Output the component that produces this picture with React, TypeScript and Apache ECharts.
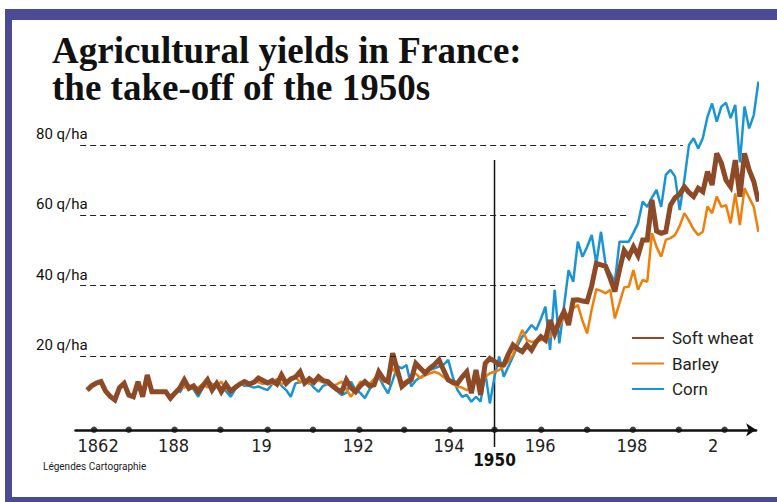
import React, { useEffect, useRef } from "react";
import * as echarts from "echarts";

const TITLE_LINES = ["Agricultural yields in France:", "the take-off of the 1950s"];
const SOURCE = "Légendes Cartographie";
const NAMES = ["Soft wheat", "Barley", "Corn"];

const WHEAT_START = 1862;
const WHEAT = [
  10.3, 11.5, 12.3, 12.7, 10.0, 8.5, 7.5, 11.0,
  12.2, 8.9, 8.4, 12.7, 8.4, 14.6, 9.8, 9.8, 9.8, 9.8,
  8.0, 9.5, 10.8, 13.2, 10.8, 11.5, 9.8, 11.5, 13.2, 10.3,
  12.2, 9.8, 12.0, 10.0, 11.0, 12.0, 12.7, 12.0, 12.5, 13.7,
  13.0, 12.3, 13.0, 12.0, 14.6, 12.2, 13.5, 14.0, 15.5, 12.3,
  13.5, 12.5, 14.1, 13.0, 12.7, 11.5, 10.5, 9.8, 13.2, 11.0,
  9.8, 11.5, 12.7, 11.5, 11.8, 15.5, 13.5, 12.7, 20.8, 16.0,
  11.3, 12.5, 13.2, 17.9, 16.5, 15.1, 16.5, 17.5, 18.9, 16.0,
  13.2, 12.5, 12.2, 14.0, 15.5, 9.4, 16.0, 8.9, 17.9, 19.3,
  18.5, 17.5, 17.5, 20.5, 23.1, 22.0, 21.2, 23.1, 21.7, 24.0,
  25.5, 24.5, 30.2, 26.4, 30.0, 32.6, 28.8, 35.9, 36.0, 35.6,
  35.4, 40.0, 46.3, 45.9, 45.5, 42.0, 38.3, 44.5, 50.0, 48.2,
  51.0, 48.5, 53.0, 53.0, 64.4, 55.5, 54.9, 55.3, 62.9, 65.0,
  66.0, 68.1, 66.5, 65.3, 67.7, 66.7, 72.4, 68.6, 77.6, 74.8,
  70.0, 68.1, 75.7, 65.3, 77.6, 72.9, 69.6, 63.9,
];

const BARLEY_START = 1882;
const BARLEY = [
  11.0, 11.0, 11.5, 10.5, 11.0, 12.0, 11.0, 12.0,
  11.5, 12.7, 10.5, 10.0, 11.5, 12.0, 12.0, 12.0, 12.5, 12.5,
  12.0, 12.5, 12.0, 13.5, 12.0, 12.5, 13.0, 14.0, 12.5, 13.0,
  12.0, 13.0, 13.0, 12.5, 12.0, 11.5, 12.0, 12.7, 10.5, 8.4,
  10.5, 12.7, 12.5, 12.0, 13.5, 14.5, 12.5, 13.5, 16.5, 14.5,
  12.0, 13.0, 14.0, 15.0, 13.7, 14.5, 15.0, 15.5, 15.0, 14.0,
  13.0, 12.0, 11.3, 11.0, 10.3, 11.0, 13.0, 11.0, 14.0, 15.1,
  15.5, 16.0, 17.0, 18.5, 20.3, 24.0, 27.4, 24.5, 24.0, 24.2,
  24.5, 25.0, 25.5, 27.0, 28.5, 31.0, 32.0, 33.5, 34.5, 30.0,
  26.4, 33.3, 39.0, 38.5, 37.8, 38.8, 30.7, 35.0, 39.5, 39.7,
  44.4, 38.8, 41.6, 41.1, 54.9, 51.0, 48.2, 53.0, 53.5, 54.4,
  57.0, 60.6, 58.5, 56.0, 54.4, 55.3, 62.5, 60.6, 65.3, 62.4,
  62.9, 57.7, 66.2, 57.2, 67.7, 65.0, 62.4, 55.3,
];

const CORN_START = 1882;
const CORN = [
  9.5, 12.0, 11.5, 10.5, 8.4, 11.0, 13.2, 12.0,
  11.5, 11.0, 10.0, 8.4, 10.5, 12.2, 11.5, 11.5, 11.0, 11.3,
  10.8, 10.3, 12.0, 13.2, 11.5, 10.3, 8.4, 12.2, 12.5, 13.2,
  12.5, 11.0, 9.8, 11.5, 12.0, 11.0, 10.0, 8.9, 9.5, 12.7,
  10.3, 9.5, 8.0, 10.5, 12.0, 14.1, 11.5, 9.4, 13.0, 17.0,
  16.5, 17.4, 11.3, 13.0, 14.0, 14.6, 16.0, 16.5, 17.0, 17.5,
  18.9, 14.0, 10.3, 8.4, 8.9, 7.0, 8.4, 7.0, 15.2, 6.5,
  14.1, 19.8, 14.1, 17.0, 19.8, 23.0, 25.5, 27.0, 28.8, 27.4,
  30.5, 34.0, 21.7, 38.8, 23.6, 34.0, 44.4, 41.1, 52.5, 48.2,
  51.0, 54.4, 46.3, 55.3, 45.9, 43.5, 41.1, 52.5, 52.5, 52.5,
  55.0, 57.7, 63.9, 62.4, 65.0, 67.2, 62.4, 71.5, 72.9, 71.0,
  61.5, 70.0, 80.0, 81.9, 79.0, 82.0, 88.0, 91.8, 86.6, 90.9,
  92.0, 87.6, 91.4, 75.0, 90.9, 84.7, 88.5, 98.0,
];

const Y_TICKS = [20, 40, 60, 80];
const GUIDE_START_YEAR = 1860.5;
const GUIDE_END_YEARS = [1948.6, 1963.1, 1979.3, 1990.7];
// axis dots as they sit on the reference axis (in axis units)
const X_DOT_POS = [1863.5, 1871, 1880.9, 1890.8, 1901, 1910.8, 1920.8, 1930.5, 1940.4, 1950, 1960.1, 1970, 1979.9, 1989.8, 1999.7];
const X_LABEL_POS = [1863.5, 1880.9, 1901, 1920.8, 1940.4, 1960.1, 1979.9, 1999.7];
const X_LABEL_TEXTS = ["1862", "188", "19", "192", "194", "196", "198", "2"];
const MARK_YEAR = 1950;
const MARK_TOP = 75.7;
const MARK_BOTTOM = -5.9;

const X_MIN = 1859.5;
const X_MAX = 2006.5;
const Y_MIN = -1;
const Y_MAX = 100;

const COLORS = { wheat: "#8E4A27", barley: "#F07F0A", corn: "#1994D4", frame: "#4B4A95" };
const NARROW = "'Liberation Sans Narrow', 'DejaVu Sans Condensed', 'Roboto Condensed', Roboto, sans-serif";
const TITLE_STYLE = { fontFamily: "'Liberation Serif', 'Times New Roman', serif", fontWeight: "bold", fontSize: 37, lineHeight: 37, color: "#111" };

export default function App() {
  const ref = useRef<HTMLDivElement>(null);
  useEffect(() => {
    document.body.style.margin = "0";
    const chart = echarts.init(ref.current!, null, { renderer: "svg" });
    const pairs = (start: number, vals: number[]) => vals.map((v, i) => [start + i, v]);

    const guideLines: any[] = Y_TICKS.map((v, i) => [
      { coord: [GUIDE_START_YEAR, v] },
      { coord: [GUIDE_END_YEARS[i], v] },
    ]);

    const option: any = {
      animation: false,
      backgroundColor: "#fff",
      title: [
        { text: TITLE_LINES[0], left: 52, top: 32, padding: 0, textStyle: TITLE_STYLE },
        { text: TITLE_LINES[1], left: 52, top: 69, padding: 0, textStyle: TITLE_STYLE },
        {
          text: SOURCE,
          left: 43,
          top: 460,
          padding: 0,
          textStyle: { fontFamily: "Roboto, sans-serif", fontWeight: "normal", fontSize: 10, lineHeight: 12, color: "#222" },
        },
      ],
      graphic: [
        { type: "rect", shape: { x: 5, y: 9, width: 772, height: 11 }, style: { fill: COLORS.frame }, silent: true },
        { type: "rect", shape: { x: 5, y: 9, width: 7, height: 493 }, style: { fill: COLORS.frame }, silent: true },
        { type: "rect", shape: { x: 5, y: 497, width: 772, height: 5 }, style: { fill: COLORS.frame }, silent: true },
      ],
      legend: {
        data: NAMES,
        orient: "vertical",
        left: 632,
        top: 328,
        padding: 0,
        itemWidth: 32,
        itemHeight: 2,
        itemGap: 5.5,
        icon: "rect",
        selectedMode: false,
        textStyle: { fontFamily: "Roboto, sans-serif", fontSize: 17, color: "#222", lineHeight: 20, padding: [0, 0, 0, 3] },
      },
      grid: { left: 75.5, right: 20.9, top: 74.6, bottom: 72.2, containLabel: false, outerBoundsMode: "none" },
      xAxis: {
        type: "value",
        min: X_MIN,
        max: X_MAX,
        splitLine: { show: false },
        axisTick: { show: false },
        axisLine: { show: true, onZero: false, symbol: ["none", "arrow"], symbolSize: [10, 10], lineStyle: { color: "#111", width: 2.5 } },
        axisLabel: {
          customValues: X_LABEL_POS,
          margin: 7,
          formatter: (val: number) => {
            const i = X_LABEL_POS.findIndex((p) => Math.abs(p - val) < 0.05);
            return i < 0 ? "" : `{t|${X_LABEL_TEXTS[i]}}`;
          },
          rich: { t: { width: 33, align: "left", fontFamily: NARROW, fontSize: 18, color: "#222" } },
        },
      },
      yAxis: {
        type: "value",
        min: Y_MIN,
        max: Y_MAX,
        splitLine: { show: false },
        axisLine: { show: false },
        axisTick: { show: false },
        axisLabel: {
          customValues: Y_TICKS,
          formatter: (v: number) => `${v} q/ha`,
          align: "left",
          verticalAlign: "bottom",
          margin: 39.5,
          padding: [0, 0, 3, 0],
          lineHeight: 16,
          fontFamily: "Roboto, sans-serif",
          fontSize: 15,
          color: "#111",
        },
      },
      series: [
        {
          name: "marker-1950",
          type: "line",
          data: [
            [MARK_YEAR, MARK_TOP],
            {
              value: [MARK_YEAR, MARK_BOTTOM],
              label: {
                show: true,
                position: "bottom",
                distance: 4,
                formatter: String(MARK_YEAR),
                fontFamily: NARROW,
                fontWeight: "bold",
                fontSize: 17,
                color: "#111",
              },
            },
          ],
          symbol: "circle",
          symbolSize: 1,
          showSymbol: true,
          itemStyle: { color: "rgba(0,0,0,0)" },
          lineStyle: { width: 1.5, color: "#111" },
          clip: false,
          silent: true,
          z: 1,
        },
        {
          name: NAMES[2],
          type: "line",
          data: pairs(CORN_START, CORN),
          symbol: "none",
          color: COLORS.corn,
          lineStyle: { width: 2.5, color: COLORS.corn },
          clip: false,
          silent: true,
          z: 2,
          markLine: {
            silent: true,
            symbol: ["none", "none"],
            label: { show: false },
            lineStyle: { type: [6, 4], width: 1, color: "#222" },
            data: guideLines,
            animation: false,
          },
        },
        {
          name: NAMES[1],
          type: "line",
          data: pairs(BARLEY_START, BARLEY),
          symbol: "none",
          color: COLORS.barley,
          lineStyle: { width: 2.5, color: COLORS.barley },
          clip: false,
          silent: true,
          z: 3,
        },
        {
          name: NAMES[0],
          type: "line",
          data: pairs(WHEAT_START, WHEAT),
          symbol: "none",
          color: COLORS.wheat,
          lineStyle: { width: 5, color: COLORS.wheat, join: "miter", miterLimit: 3 },
          clip: false,
          silent: true,
          z: 4,
        },
        {
          name: "axis-dots",
          type: "scatter",
          data: X_DOT_POS.map((y) => [y, Y_MIN]),
          symbol: "circle",
          symbolSize: 6.5,
          itemStyle: { color: "#111" },
          clip: false,
          silent: true,
          z: 5,
        },
      ],
    };
    chart.setOption(option);
    return () => chart.dispose();
  }, []);
  return <div ref={ref} style={{ width: 777, height: 502 }} />;
}
